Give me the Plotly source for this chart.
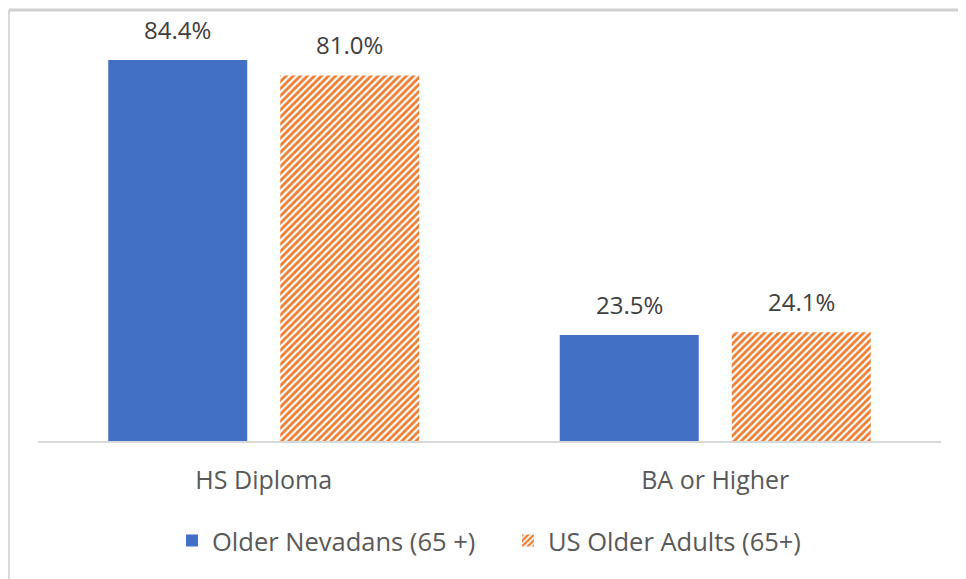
import plotly.graph_objects as go

categories = ["HS Diploma", "BA or Higher"]
nevada_values = [84.4, 23.5]
us_values = [81.0, 24.1]
series_names = ["Older Nevadans (65 +)", "US Older Adults (65+)"]

FONT = "Open Sans"
TXT = "#595959"
BLUE = "#4170C4"
ORANGE = "#ED7D31"

fig = go.Figure()
fig.add_trace(go.Bar(
    x=categories, y=nevada_values, name=series_names[0],
    marker=dict(color=BLUE, line=dict(width=0)),
))
fig.add_trace(go.Bar(
    x=categories, y=us_values, name=series_names[1],
    marker=dict(color="white", line=dict(width=0),
                pattern=dict(shape="/", fgcolor=ORANGE, bgcolor="white", fgopacity=1,
                             size=5, solidity=0.55, fillmode="overlay")),
))

# data labels
for vals, shift in ((nevada_values, -86), (us_values, 86)):
    for c, v in zip(categories, vals):
        fig.add_annotation(x=c, y=v, text=f"{v:.1f}%", showarrow=False,
                           xref="x", yref="y", xshift=shift, yanchor="bottom",
                           yshift=12, font=dict(family=FONT, size=24, color="#404040"))

# outer chart border (light gray): left and top edges
fig.add_shape(type="line", xref="paper", yref="paper",
              x0=-0.0321, x1=-0.0321, y0=-0.6, y1=1.024,
              line=dict(color="#D9D9D9", width=2), layer="above")
fig.add_shape(type="line", xref="paper", yref="paper",
              x0=-0.0321, x1=1.2, y0=1.024, y1=1.024,
              line=dict(color="#D0D0D0", width=3), layer="above")

fig.update_layout(
    width=958, height=571,
    margin=dict(l=30, r=25, t=12, b=138),
    paper_bgcolor="white", plot_bgcolor="white",
    barmode="group", bargap=0.238, bargroupgap=0.192,
    font=dict(family=FONT, size=24, color=TXT),
    showlegend=True,
    legend=dict(orientation="h", x=0.5205, xanchor="center", y=-0.2375, yanchor="middle",
                font=dict(family=FONT, size=25.5, color=TXT), traceorder="normal",
                entrywidth=291, entrywidthmode="pixels",
                bgcolor="rgba(0,0,0,0)"),
    xaxis=dict(showline=True, linecolor="#D9D9D9", linewidth=2, ticks="",
               showgrid=False, zeroline=False, ticklabelstandoff=16,
               tickfont=dict(family=FONT, size=25, color=TXT), fixedrange=True),
    yaxis=dict(range=[0, 93.27], visible=False, showgrid=False, zeroline=False),
)

fig.write_html("out.html")
